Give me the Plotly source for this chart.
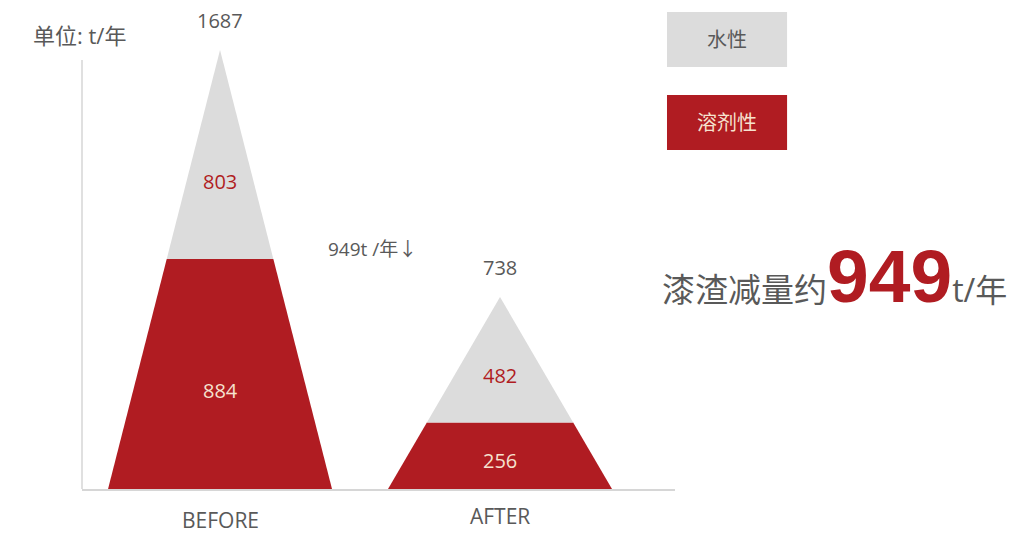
import plotly.graph_objects as go

# Paint residue (t/year), before and after the switch to water-based coatings
stages = ["BEFORE", "AFTER"]
solvent_based = [884, 256]   # 溶剂性
water_based = [803, 482]     # 水性
totals = [s + w for s, w in zip(solvent_based, water_based)]
reduction = totals[0] - totals[1]

RED = "#b01c22"
GREY = "#dcdcdc"
TEXT = "#595959"
CREAM = "#f6e2cf"
FONT = "Open Sans, Noto Sans CJK SC, sans-serif"
HALF_BASE = 0.4

fig = go.Figure()

for i, (red, grey, tot) in enumerate(zip(solvent_based, water_based, totals)):
    mid = HALF_BASE * (1 - red / tot)   # half width of the cone at the split level
    # solvent-based part: lower trapezoid
    fig.add_trace(go.Scatter(
        x=[i - HALF_BASE, i + HALF_BASE, i + mid, i - mid, i - HALF_BASE],
        y=[0, 0, red, red, 0],
        fill="toself", fillcolor=RED, mode="lines", line=dict(width=0),
        hoverinfo="skip", showlegend=False))
    # water-based part: upper triangle
    fig.add_trace(go.Scatter(
        x=[i - mid, i + mid, i, i - mid],
        y=[red, red, tot, red],
        fill="toself", fillcolor=GREY, mode="lines", line=dict(width=0),
        hoverinfo="skip", showlegend=False))
    # value labels
    fig.add_annotation(x=i, y=tot, text=str(tot), showarrow=False,
                       xanchor="center", yanchor="bottom", yshift=14,
                       font=dict(size=20, color=TEXT, family=FONT))
    fig.add_annotation(x=i, y=red + 0.37 * grey, text=str(grey), showarrow=False,
                       xanchor="center", yanchor="middle",
                       font=dict(size=20, color=RED, family=FONT))
    fig.add_annotation(x=i, y=0.43 * red, text=str(red), showarrow=False,
                       xanchor="center", yanchor="middle",
                       font=dict(size=20, color=CREAM, family=FONT))

# category labels under the baseline
for i, (name, ypos) in enumerate(zip(stages, [-0.071, -0.061])):
    fig.add_annotation(x=i, xref="x", yref="paper", y=ypos, text=name, showarrow=False,
                       xanchor="center", yanchor="middle",
                       font=dict(size=21, color=TEXT, family=FONT))

# unit label
fig.add_annotation(xref="paper", yref="paper", x=-0.005, y=1.034, text="单位: t/年",
                   xanchor="center", yanchor="middle", showarrow=False,
                   font=dict(size=22, color=TEXT, family=FONT))

# reduction between the two cones
fig.add_annotation(xref="paper", yref="paper", x=0.49, y=0.547,
                   text=f"{reduction}t /年↓", showarrow=False,
                   xanchor="center", yanchor="middle",
                   font=dict(size=19, color=TEXT, family=FONT))

# legend boxes
legend_items = [("水性", GREY, TEXT, 1.0866, 0.961), ("溶剂性", RED, CREAM, 0.8975, 0.772)]
for label, fill, fcol, y1, y0 in legend_items:
    fig.add_shape(type="rect", xref="paper", yref="paper", x0=0.9865, x1=1.189,
                  y0=y0, y1=y1, fillcolor=fill, line=dict(width=0), layer="below")
    fig.add_annotation(xref="paper", yref="paper", x=1.088, y=(y0 + y1) / 2, text=label,
                       xanchor="center", yanchor="middle", showarrow=False,
                       font=dict(size=20, color=fcol, family=FONT))

# headline
fig.add_annotation(
    xref="paper", yref="paper", x=0.975, y=0.486, xanchor="left", yanchor="middle",
    text=("漆渣减量约"
          f"<span style='font-size:75px;color:{RED};font-family:Liberation Sans'><b>{reduction}</b></span>"
          "<span style='font-size:32px'>t/年</span>"),
    showarrow=False, font=dict(size=33, color=TEXT, family=FONT))

# vertical axis line
fig.add_shape(type="line", xref="paper", yref="paper", x0=0, x1=0, y0=0, y1=0.977,
              line=dict(color="#d6d6d6", width=1.5))

fig.update_layout(
    width=1025, height=534,
    margin=dict(l=82, r=350, t=50, b=45),
    paper_bgcolor="white", plot_bgcolor="white",
    xaxis=dict(range=[-0.493, 1.625], showticklabels=False,
               showgrid=False, zeroline=False, showline=True, linecolor="#d6d6d6",
               linewidth=1.5, ticks="", automargin=False, fixedrange=True),
    yaxis=dict(range=[0, totals[0]], showgrid=False, zeroline=False, showline=False,
               showticklabels=False, ticks="", automargin=False, fixedrange=True),
)

fig.write_html("out.html")
